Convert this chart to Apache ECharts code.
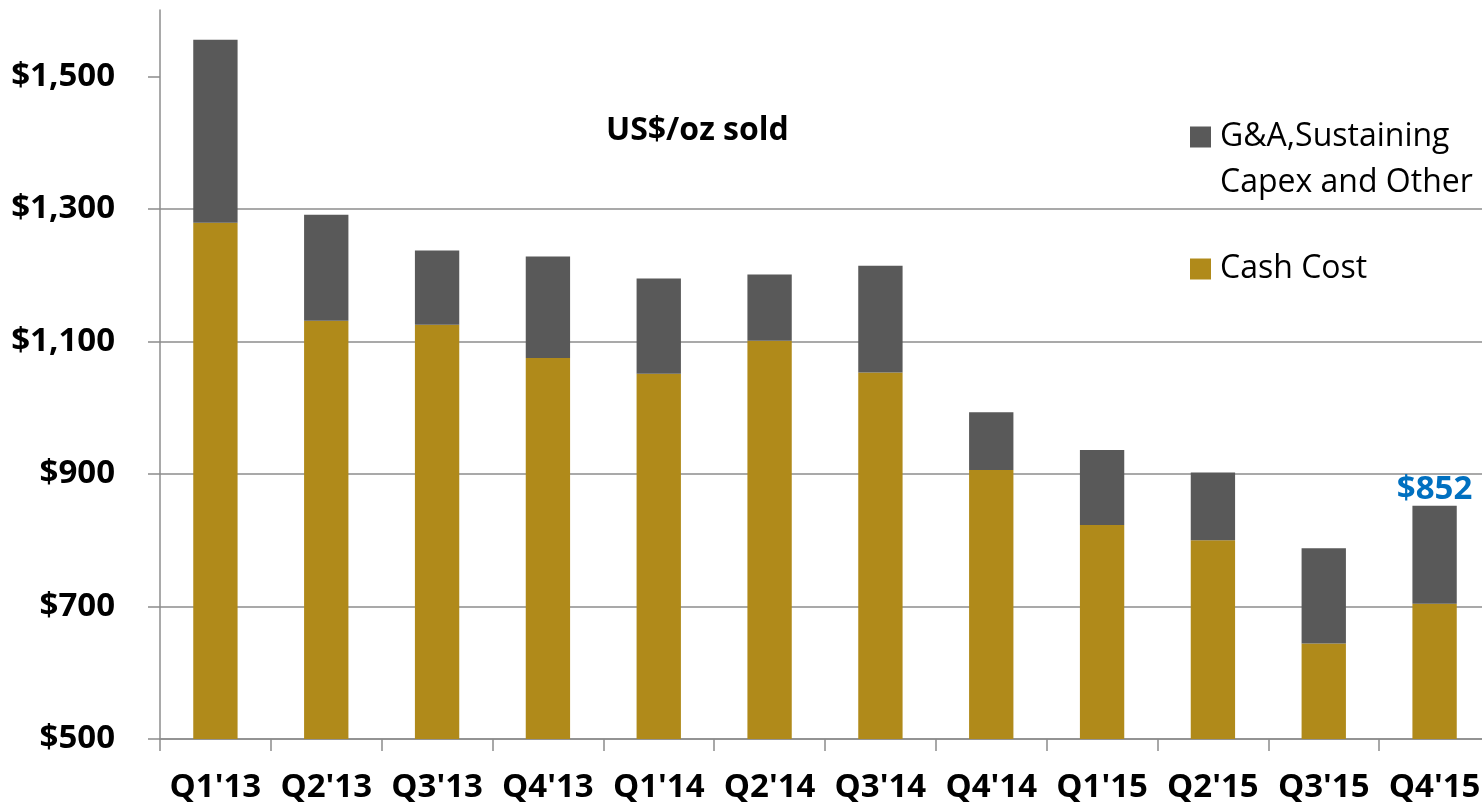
<!DOCTYPE html>
<html>
<head>
<meta charset="utf-8">
<script src="https://cdn.jsdelivr.net/npm/echarts@6/dist/echarts.min.js"></script>
<style>
html,body{margin:0;padding:0;background:#fff;overflow:hidden;}
#chart{width:1490px;height:806px;}
</style>
</head>
<body>
<div id="chart"></div>
<script>
const categories = ["Q1'13","Q2'13","Q3'13","Q4'13","Q1'14","Q2'14","Q3'14","Q4'14","Q1'15","Q2'15","Q3'15","Q4'15"];
const cashCost = [1279,1131,1125,1075,1051,1101,1053,906,823,800,644,704];
const gaSustaining = [276,160,112,153,144,100,161,87,113,102,144,148];
const yTicks = [500,700,900,1100,1300,1500];
const labeledIndex = [11];
const seriesNames = ['G&A,Sustaining Capex and Other', 'Cash Cost'];

const FONT = 'Open Sans';
const gridColor = '#8c8c8c';

const chart = echarts.init(document.getElementById('chart'));
chart.setOption({
  animation: false,
  backgroundColor: '#ffffff',
  title: {
    text: 'US$/oz sold',
    left: 606, top: 111, padding: 0,
    textStyle: {fontFamily: FONT, fontWeight: 'bold', fontSize: 32, lineHeight: 40, color: '#000'}
  },
  legend: [{
    data: [seriesNames[0]],
    orient: 'vertical', left: 1190, top: 68, padding: 0,
    itemWidth: 21, itemHeight: 21, icon: 'rect',
    formatter: function (n) { return '\nG&A,Sustaining\nCapex and Other'; },
    textStyle: {fontFamily: FONT, fontSize: 32, lineHeight: 46, color: '#000', padding: [0, 0, 0, 4]}
  }, {
    data: [seriesNames[1]],
    orient: 'vertical', left: 1190, top: 246, padding: 0,
    itemWidth: 21, itemHeight: 21, icon: 'rect',
    textStyle: {fontFamily: FONT, fontSize: 32, lineHeight: 46, color: '#000', padding: [0, 0, 0, 4]}
  }],
  grid: {left: 160, right: 0, top: 10, bottom: 66, containLabel: false},
  xAxis: {
    type: 'category',
    data: categories,
    axisLine: {lineStyle: {color: gridColor, width: 1.5}},
    axisTick: {show: true, length: 12, lineStyle: {color: gridColor, width: 1.5}},
    axisLabel: {interval: 0, margin: 31, fontFamily: FONT, fontWeight: 'bold', fontSize: 33, lineHeight: 36, color: '#000'}
  },
  yAxis: {
    type: 'value',
    min: 500, max: 1600,
    axisLine: {show: true, lineStyle: {color: gridColor, width: 1.5}},
    axisTick: {show: true, length: 12, customValues: yTicks, lineStyle: {color: gridColor, width: 1.5}},
    splitLine: {show: true, showMaxLine: false, lineStyle: {color: gridColor, width: 1.5}},
    axisLabel: {
      customValues: yTicks,
      margin: 45, fontFamily: FONT, fontWeight: 'bold', fontSize: 33, color: '#000',
      formatter: function (v) { return '$' + v.toLocaleString('en-US'); }
    }
  },
  series: [{
    name: seriesNames[1],
    type: 'bar', stack: 'total', barWidth: '40%',
    itemStyle: {color: '#B08A1A'},
    data: cashCost
  }, {
    name: seriesNames[0],
    type: 'bar', stack: 'total', barWidth: '40%',
    itemStyle: {color: '#595959'},
    data: gaSustaining.map(function (v, i) {
      if (labeledIndex.indexOf(i) >= 0) {
        return {value: v, label: {
          show: true, position: 'top', distance: 0,
          formatter: function () { return '$' + (cashCost[i] + gaSustaining[i]); },
          fontFamily: FONT, fontWeight: 'bold', fontSize: 33, lineHeight: 32, color: '#0070C0'
        }};
      }
      return v;
    })
  }]
});
</script>
</body>
</html>
